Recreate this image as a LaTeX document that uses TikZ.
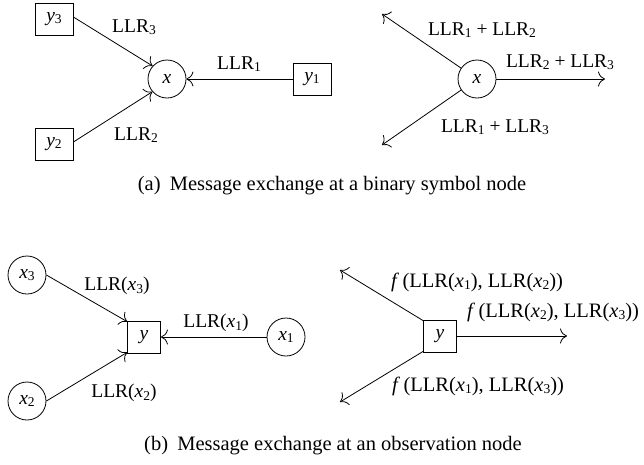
\documentclass[tikz,border=0pt]{standalone}
\usepackage{fontspec}
\setmainfont{Liberation Serif}
\usetikzlibrary{arrows.meta}
\newcommand{\lo}[1]{\raisebox{-0.28ex}{\fontsize{13.5}{14}\selectfont #1}}
\newcommand{\vi}[1]{\textit{#1}}
\begin{document}
\begin{tikzpicture}[x=1pt,y=-1pt,
  lbl/.style={font=\fontsize{19.5}{22}\selectfont, inner sep=0pt},
  wlbl/.style={font=\fontsize{20.5}{22}\selectfont, inner sep=0pt},
  vnode/.style={draw, circle, minimum size=38pt, inner sep=0pt, line width=0.8pt, font=\fontsize{19.5}{22}\selectfont},
  obox/.style={draw, rectangle, minimum width=38pt, minimum height=32pt, inner sep=0pt, line width=0.8pt, font=\fontsize{19.5}{22}\selectfont},
  ybox/.style={draw, rectangle, minimum width=33pt, minimum height=32pt, inner sep=0pt, line width=0.8pt, font=\fontsize{19.5}{22}\selectfont},
  msg/.style={line width=0.8pt, -{To[length=7pt,width=15pt]}}
]
\useasboundingbox (0,0) rectangle (644,464);
% ---------- panel (a), left
\node[obox] (ya3) at (54,19) {\vi{y}\lo{3}};
\node[obox] (ya2) at (54,144) {\vi{y}\lo{2}};
\node[obox] (ya1) at (312,79) {\vi{y}\lo{1}};
\node[vnode] (xa) at (167,79) {\vi{x}};
\draw[msg] ([yshift=2pt]ya3.east) -- (xa.138);
\draw[msg] ([yshift=2pt]ya2.east) -- (xa.221);
\draw[msg] (ya1) -- (xa);
\node[lbl] (la3) at (134,27) {LLR\lo{3}};
\node[lbl] (la2) at (136,135) {LLR\lo{2}};
\node[lbl] (la1) at (239,64) {LLR\lo{1}};
% ---------- panel (a), right
\node[vnode] (xr) at (477,79) {\vi{x}};
\coordinate (ar1) at (382,14);
\coordinate (ar2) at (605,79);
\coordinate (ar3) at (382,145);
\draw[msg] (xr) -- (ar1);
\draw[msg] (xr) -- (ar2);
\draw[msg] (xr) -- (ar3);
\node[lbl] (lr1) at (482,30) {LLR\lo{1} + LLR\lo{2}};
\node[lbl] (lr2) at (560,62) {LLR\lo{2} + LLR\lo{3}};
\node[lbl] (lr3) at (495,127) {LLR\lo{1} + LLR\lo{3}};
\node[wlbl] (capa) at (332,186) {(a)\hspace{0.45em}Message exchange at a binary symbol node};
% ---------- panel (b), left
\node[vnode] (xb3) at (27,275) {\vi{x}\lo{3}};
\node[vnode] (xb2) at (27,401) {\vi{x}\lo{2}};
\node[vnode] (xb1) at (286,337) {\vi{x}\lo{1}};
\node[ybox] (yb) at (144,337) {\vi{y}};
\draw[msg] (xb3.east) -- ([yshift=-1pt]yb.north west);
\draw[msg] (xb2.east) -- ([yshift=1pt]yb.south west);
\draw[msg] (xb1) -- (yb);
\node[lbl] (lb3) at (117,286) {LLR(\vi{x}\lo{3})};
\node[lbl] (lb2) at (124,393) {LLR(\vi{x}\lo{2})};
\node[lbl] (lb1) at (216,323) {LLR(\vi{x}\lo{1})};
% ---------- panel (b), right
\node[ybox] (yr) at (440,336) {\vi{y}};
\coordinate (br1) at (340,270);
\coordinate (br2) at (567,336);
\coordinate (br3) at (340,402);
\draw[msg] ([yshift=-1pt]yr.north west) -- (br1);
\draw[msg] (yr) -- (br2);
\draw[msg] ([yshift=1pt]yr.south west) -- (br3);
\node[wlbl] (rb1) at (477,282) {\vi{f}\,(LLR(\vi{x}\lo{1}), LLR(\vi{x}\lo{2}))};
\node[wlbl] (rb2) at (553,312) {\vi{f}\,(LLR(\vi{x}\lo{2}), LLR(\vi{x}\lo{3}))};
\node[wlbl] (rb3) at (478,386) {\vi{f}\,(LLR(\vi{x}\lo{1}), LLR(\vi{x}\lo{3}))};
\node[wlbl] (capb) at (333,446) {(b)\hspace{0.45em}Message exchange at an observation node};
\end{tikzpicture}
\end{document}
